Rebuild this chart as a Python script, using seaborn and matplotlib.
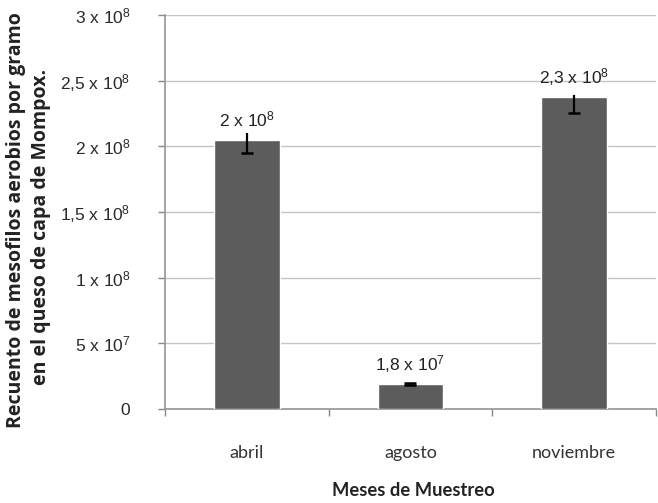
import matplotlib
matplotlib.use("Agg")
import matplotlib.pyplot as plt
import seaborn as sns
import pandas as pd
import numpy as np

meses = ["abril", "agosto", "noviembre"]
recuento = [2.05e8, 1.9e7, 2.375e8]
error_inferior = [1.0e7, 0.1e7, 1.2e7]
error_superior = [0.5e7, 0.1e7, 0.15e7]
etiquetas = [r"2 x 10$^{8}$", r"1,8 x 10$^{7}$", r"2,3 x 10$^{8}$"]
yticks = [0, 5e7, 1e8, 1.5e8, 2e8, 2.5e8, 3e8]
ytick_labels = ["0", r"5 x 10$^{7}$", r"1 x 10$^{8}$", r"1,5 x 10$^{8}$",
                r"2 x 10$^{8}$", r"2,5 x 10$^{8}$", r"3 x 10$^{8}$"]

sns.set_theme(style="white")
plt.rcParams["font.family"] = ["Liberation Sans", "DejaVu Sans"]
plt.rcParams["mathtext.fontset"] = "custom"
plt.rcParams["mathtext.rm"] = "Liberation Sans"
plt.rcParams["mathtext.it"] = "Liberation Sans"

df = pd.DataFrame({"mes": meses, "valor": recuento})

fig = plt.figure(figsize=(6.58, 5.03), dpi=100)
ax = fig.add_axes([0.2508, 0.187, 0.746, 0.783])

sns.barplot(data=df, x="mes", y="valor", color="#5c5c5c", width=0.4,
            saturation=1, ax=ax, zorder=3, errorbar=None)
xs = np.arange(len(meses))
ax.errorbar(xs, recuento, yerr=[error_inferior, error_superior], fmt="none",
            ecolor="black", elinewidth=1.6, capsize=0, zorder=4)
ax.plot(xs, np.array(recuento) - np.array(error_inferior), linestyle="none",
        marker="_", markersize=9, markeredgewidth=1.8, color="black", zorder=5)
ax.plot(xs[1:2], np.array(recuento[1:2]) + np.array(error_superior[1:2]), linestyle="none",
        marker="_", markersize=9, markeredgewidth=1.8, color="black", zorder=5)

for x, v, t in zip(xs, recuento, etiquetas):
    ax.annotate(t, (x, v), xytext=(0, 14.5), textcoords="offset points",
                ha="center", va="center", fontsize=12.5, color="#222222")

ax.set_ylim(0, 3e8)
ax.set_xlim(-0.5, 2.5)
ax.set_yticks(yticks)
ax.set_yticklabels(ytick_labels, fontsize=12.5, color="#2a2a2a")
ax.yaxis.grid(True, color="#c4c4c4", linewidth=1)
ax.set_axisbelow(True)

ax.set_xticks(xs)
ax.set_xticklabels(meses, fontsize=13, color="#333333", family="Lato")
ax.set_xticks([-0.5, 0.5, 1.5, 2.5], minor=True)
ax.tick_params(axis="x", which="major", length=0, pad=26)
ax.tick_params(axis="x", which="minor", length=5, color="#888888", width=1, direction="out", bottom=True)
ax.tick_params(axis="y", length=5, color="#888888", width=1, direction="out", left=True, pad=20)

for s in ["top", "right"]:
    ax.spines[s].set_visible(False)
ax.spines["left"].set_color("#999999")
ax.spines["bottom"].set_color("#999999")
ax.set_xlabel("")
ax.set_ylabel("")

fig.text(0.628, 0.008, "Meses de Muestreo", ha="center", va="bottom",
         fontsize=13.2, fontweight="bold", family="Lato", color="#222222")
fig.text(0.024, 0.563, "Recuento de mesofilos aerobios por gramo", rotation=90,
         ha="center", va="center", fontsize=14, fontweight="bold",
         family="Open Sans", color="#222222")
fig.text(0.062, 0.549, "en el queso de capa de Mompox.", rotation=90,
         ha="center", va="center", fontsize=14, fontweight="bold",
         family="Open Sans", color="#222222")

fig.savefig("out.png", dpi=100)
